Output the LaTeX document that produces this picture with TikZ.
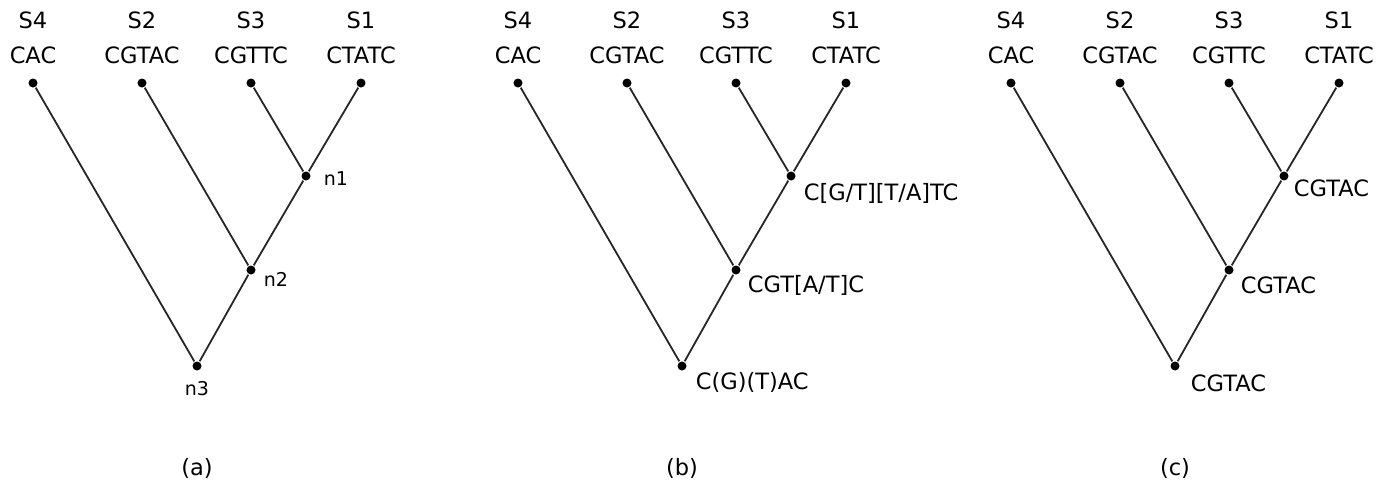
\documentclass[tikz,border=0pt]{standalone}
\usepackage{fontspec}
\setmainfont{DejaVu Sans}
\usetikzlibrary{calc}

\begin{document}
\begin{tikzpicture}[x=1pt,y=-1pt,line width=1.8pt,
            every node/.style={inner sep=1pt,font=\fontsize{22.5}{25}\selectfont},
            dot/.style={circle,fill=black,inner sep=0pt,minimum size=9pt},
            small/.style={font=\fontsize{19}{21}\selectfont},
            edge/.style={draw=black!85}]
            \useasboundingbox(0,0)rectangle(1390,490);
            % three copies of the same tree
            \foreach \dx/\p/\cap in {0/a/(a),485/b/(b),978/c/(c)}{
              \node[dot](\p s4)at(33+\dx,83){};
              \node[dot](\p s2)at(142+\dx,83){};
              \node[dot](\p s3)at(251+\dx,83){};
              \node[dot](\p s1)at(361+\dx,83){};
              \node[dot](\p n1)at(306+\dx,176){};
              \node[dot](\p n2)at(251+\dx,270){};
              \node[dot](\p n3)at(197+\dx,366){};
              \node at(33+\dx,20){S4};\node at(33+\dx,55){CAC};
              \node at(142+\dx,20){S2};\node at(142+\dx,55){CGTAC};
              \node at(251+\dx,20){S3};\node at(251+\dx,55){CGTTC};
              \node at(361+\dx,20){S1};\node at(361+\dx,55){CTATC};
              \draw[edge](\p s3)--(\p n1)--(\p s1);
              \draw[edge](\p s2)--(\p n2)--(\p n1);
              \draw[edge](\p s4)--(\p n3)--(\p n2);
              \node at(197+\dx,468){\cap};
            }
            % (a) names
            \node[small,anchor=west]at([shift={(16,3)}]an1){n1};
            \node[small,anchor=west]at([shift={(11,9)}]an2){n2};
            \node[small]at([shift={(0,23)}]an3){n3};
            % (b) sets
            \node[anchor=west]at([shift={(11,17)}]bn1){C[G/T][T/A]TC};
            \node[anchor=west]at([shift={(10,15)}]bn2){CGT[A/T]C};
            \node[anchor=west]at([shift={(12,16)}]bn3){C(G)(T)AC};
            % (c) choice
            \node[anchor=west]at([shift={(8,12)}]cn1){CGTAC};
            \node[anchor=west]at([shift={(10,15)}]cn2){CGTAC};
            \node[anchor=west]at([shift={(14,17)}]cn3){CGTAC};
        \end{tikzpicture}
\end{document}
